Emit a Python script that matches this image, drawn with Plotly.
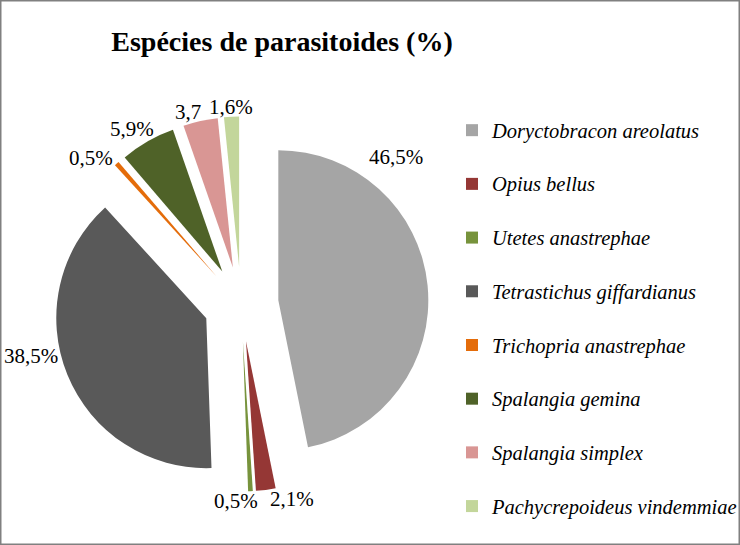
import math
import plotly.graph_objects as go

species = ["Doryctobracon areolatus", "Opius bellus", "Utetes anastrephae",
           "Tetrastichus giffardianus", "Trichopria anastrephae", "Spalangia gemina",
           "Spalangia simplex", "Pachycrepoideus vindemmiae"]
values = [46.5, 2.1, 0.5, 38.5, 0.5, 5.9, 3.7, 1.6]
value_labels = ["46,5%", "2,1%", "0,5%", "38,5%", "0,5%", "5,9%", "3,7", "1,6%"]
colors = ["#A5A5A5", "#953735", "#77933C", "#595959", "#E46C0A", "#4F6228", "#D99694", "#C3D69B"]

# styling: label placement (Excel "best fit" angular nudges, in degrees)
label_angle_nudge = [-37.7, -7, 4.4, 8.3, -4.3, -2, -3, 0]
label_font_size = 21
label_gap_px = 188  # distance from pie centre to the label box edge

W, H = 740, 545
cx, cy, half = 241, 304, 187.5
pull = 0.25

legend_labels = ["<span style='font-size:20.5px'><i>%s</i></span><br> " % s for s in species]

fig = go.Figure(go.Pie(
    labels=legend_labels,
    values=values,
    textinfo="none",
    sort=False,
    direction="clockwise",
    rotation=0,
    pull=[pull] * len(values),
    marker=dict(colors=colors, line=dict(width=0)),
    domain=dict(x=[(cx - half) / W, (cx + half) / W],
                y=[(H - cy - half) / H, (H - cy + half) / H]),
    hoverinfo="label+percent",
))


def text_width_em(s):
    w = 0.0
    for ch in s:
        w += 0.25 if ch == "," else (0.833 if ch == "%" else 0.5)
    return w


total = sum(values)
annotations = []
cum = 0.0
for v, lab, nudge in zip(values, value_labels, label_angle_nudge):
    mid = (cum + v / 2) / total * 360.0 + nudge
    cum += v
    a = math.radians(mid)
    hw = text_width_em(lab) * label_font_size / 2
    hh = 8
    r = label_gap_px + hw * abs(math.sin(a)) + hh * abs(math.cos(a))
    px = cx + r * math.sin(a)
    py = cy - r * math.cos(a)
    annotations.append(dict(
        text=lab, x=px / W, y=1 - py / H, xref="paper", yref="paper",
        xanchor="center", yanchor="middle", showarrow=False,
        font=dict(family="Liberation Serif", size=label_font_size, color="black")))

fig.update_layout(
    width=W, height=H,
    margin=dict(l=0, r=0, t=0, b=0, autoexpand=False),
    paper_bgcolor="white",
    title=dict(text="<b>Espécies de parasitoides (%)</b>", x=282 / W, xanchor="center",
               y=1 - 41 / H, yanchor="middle",
               font=dict(family="Liberation Serif", size=28, color="black")),
    legend=dict(x=452 / W, xanchor="left", y=1 - 111 / H, yanchor="top",
                font=dict(family="Liberation Serif", size=19.5, color="black"),
                valign="top", itemwidth=30, bgcolor="rgba(0,0,0,0)"),
    annotations=annotations,
    shapes=[dict(type="rect", xref="paper", yref="paper", x0=0, y0=0, x1=1, y1=1,
                 line=dict(color="#808080", width=3))],
)

fig.write_html("out.html", config={"displayModeBar": False},
               post_script="document.body.style.margin='0';")
